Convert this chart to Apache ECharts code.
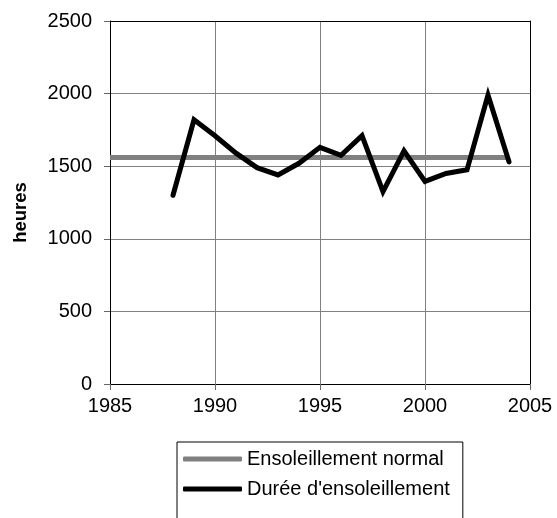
<!DOCTYPE html>
<html>
<head>
<meta charset="utf-8">
<script src="https://cdn.jsdelivr.net/npm/echarts@6/dist/echarts.min.js"></script>
<style>
  html, body { margin: 0; padding: 0; background: #fff; }
  #chart { width: 557px; height: 518px; }
</style>
</head>
<body>
<div id="chart"></div>
<script>
// Annual sunshine hours, 1988–2004, against the normal value
const years = [1988, 1989, 1990, 1991, 1992, 1993, 1994, 1995, 1996, 1997, 1998, 1999, 2000, 2001, 2002, 2003, 2004];
const sunshine = [1300, 1820, 1710, 1590, 1490, 1440, 1520, 1630, 1575, 1710, 1325, 1605, 1395, 1450, 1475, 1990, 1530];
const normalYears = [1985, 2004];
const normalValue = 1560;
const seriesNames = ['Ensoleillement normal', "Durée d'ensoleillement"];
const yAxisTitle = 'heures';

const FONT = '"Liberation Sans", Arial, sans-serif';
const labelStyle = { fontFamily: FONT, fontSize: 20, color: '#000' };
const plainNumber = v => String(v);

const chart = echarts.init(document.getElementById('chart'), null, { renderer: 'canvas' });

chart.setOption({
  animation: false,
  backgroundColor: '#fff',
  grid: { left: 110, right: 27, top: 21, bottom: 134, containLabel: false },
  legend: {
    type: 'plain',
    orient: 'vertical',
    left: 177,
    top: 442,
    width: 290,
    height: 100,
    data: seriesNames,
    icon: 'roundRect',
    itemWidth: 59,
    itemHeight: 5,
    itemGap: 8,
    padding: [6, 13, 30, 6],
    borderColor: '#000',
    borderWidth: 1,
    textStyle: Object.assign({}, labelStyle, { lineHeight: 22 })
  },
  xAxis: [{
    type: 'value',
    min: 1985, max: 2005, interval: 5,
    axisLine: { show: true, onZero: false, lineStyle: { color: '#000', width: 1 } },
    axisTick: { show: true, inside: false, length: 6, lineStyle: { color: '#666' } },
    axisLabel: Object.assign({ margin: 12, formatter: plainNumber }, labelStyle),
    splitLine: { show: true, lineStyle: { color: '#808080', width: 1 } }
  }, {
    type: 'value', position: 'top',
    min: 1985, max: 2005, interval: 5,
    axisLine: { show: true, onZero: false, lineStyle: { color: '#000', width: 1 } },
    axisTick: { show: false }, axisLabel: { show: false }, splitLine: { show: false }
  }],
  yAxis: [{
    type: 'value',
    min: 0, max: 2500, interval: 500,
    name: yAxisTitle,
    nameLocation: 'middle',
    nameGap: 80,
    nameRotate: 90,
    nameTextStyle: { fontFamily: FONT, fontSize: 18.5, fontWeight: 'bold', color: '#000', padding: [0, 0, 0, -20] },
    axisLine: { show: true, onZero: false, lineStyle: { color: '#000', width: 1 } },
    axisTick: { show: true, inside: false, length: 6, lineStyle: { color: '#666' } },
    axisLabel: Object.assign({ margin: 18, formatter: plainNumber }, labelStyle),
    splitLine: { show: true, lineStyle: { color: '#808080', width: 1 } }
  }, {
    type: 'value', position: 'right',
    min: 0, max: 2500, interval: 500,
    axisLine: { show: true, onZero: false, lineStyle: { color: '#000', width: 1 } },
    axisTick: { show: false }, axisLabel: { show: false }, splitLine: { show: false }
  }],
  series: [{
    name: seriesNames[0],
    type: 'line',
    data: normalYears.map(y => [y, normalValue]),
    showSymbol: false,
    symbol: 'none',
    color: '#808080',
    lineStyle: { color: '#808080', width: 5, cap: 'butt' }
  }, {
    name: seriesNames[1],
    type: 'line',
    data: years.map((y, i) => [y, sunshine[i]]),
    showSymbol: false,
    symbol: 'none',
    color: '#000',
    lineStyle: { color: '#000', width: 5, join: 'miter', cap: 'round' }
  }]
});
</script>
</body>
</html>
